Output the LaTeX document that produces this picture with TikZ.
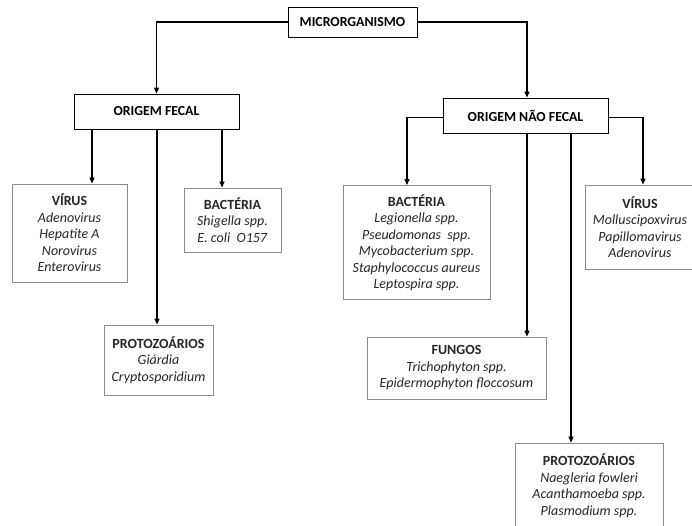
\documentclass[tikz,border=0pt]{standalone}
\usepackage{fontspec}
\setmainfont{Carlito}
\usetikzlibrary{arrows.meta}
\begin{document}
\begin{tikzpicture}[x=1pt,y=-1pt,
  every node/.style={font=\fontsize{14}{16.5}\selectfont, align=center, inner sep=0pt, text=black!85},
  head/.style={draw=black, line width=0.9pt, text=black, font=\fontsize{13.8}{16.5}\selectfont\bfseries},
  leaf/.style={draw=black!45, line width=0.9pt},
  arr/.style={line width=1.4pt, -{Triangle[length=6pt,width=5pt]}}
]
\clip (0,0) rectangle (692,526);
\useasboundingbox (0,0) rectangle (692,526);

\node[head, minimum width=129, minimum height=30] (M) at (352.5,22) {MICRORGANISMO};
\node[head, minimum width=165, minimum height=35] (OF) at (156.5,111.5) {ORIGEM FECAL};
\node[head, minimum width=165, minimum height=35] (NF) at (525.5,115.5) {ORIGEM NÃO FECAL};

\node[leaf, minimum width=115, minimum height=98] (VF) at (69.5,233) {\textbf{VÍRUS}\\\textit{Adenovirus}\\\textit{Hepatite A}\\\textit{Norovirus}\\\textit{Enterovirus}};
\node[leaf, minimum width=97, minimum height=64] (BF) at (232.5,220) {\textbf{BACTÉRIA}\\\textit{Shigella spp.}\\\textit{E. coli\ \ O157}};
\node[leaf, minimum width=109, minimum height=70] (PF) at (158.5,360) {\textbf{PROTOZOÁRIOS}\\\textit{Giárdia}\\\textit{Cryptosporidium}};

\node[leaf, minimum width=147, minimum height=114] (BN) at (416.5,242.5) {\textbf{BACTÉRIA}\\\textit{Legionella spp.}\\\textit{Pseudomonas\ \ spp.}\\\textit{Mycobacterium spp.}\\\textit{Staphylococcus aureus}\\\textit{Leptospira spp.}};
\node[leaf, minimum width=110, minimum height=84] (VN) at (640,227) {\textbf{VÍRUS}\\\textit{Molluscipoxvirus}\\\textit{Papillomavirus}\\\textit{Adenovirus}};
\node[leaf, minimum width=179, minimum height=62] (FN) at (456.5,368) {\textbf{FUNGOS}\\\textit{Trichophyton spp.}\\\textit{Epidermophyton floccosum}};
\node[leaf, minimum width=148, minimum height=85] (PN) at (589,485.5) {\textbf{PROTOZOÁRIOS}\\\textit{Naegleria fowleri}\\\textit{Acanthamoeba spp.}\\\textit{Plasmodium spp.}};

\draw[arr] (M.west) -| (OF.north);
\draw[arr] (M.east) -| ([xshift=1.5pt]NF.north);

\draw[arr] ([xshift=-64.5pt]OF.south) -- ([xshift=-64.5pt]OF.south |- VF.north);
\draw[arr] ([xshift=0.5pt]OF.south) -- ([xshift=0.5pt]OF.south |- PF.north);
\draw[arr] ([xshift=65.5pt]OF.south) -- ([xshift=65.5pt]OF.south |- BF.north);

\draw[arr] ([yshift=-2pt]NF.west) -| ([xshift=-9.5pt]BN.north);
\draw[arr] ([yshift=-2pt]NF.east) -| ([xshift=3pt]VN.north);
\draw[arr] ([xshift=1.5pt]NF.south) -- ([xshift=1.5pt]NF.south |- FN.north);
\draw[arr] ([xshift=45.5pt]NF.south) -- ([xshift=45.5pt]NF.south |- PN.north);
\end{tikzpicture}
\end{document}
